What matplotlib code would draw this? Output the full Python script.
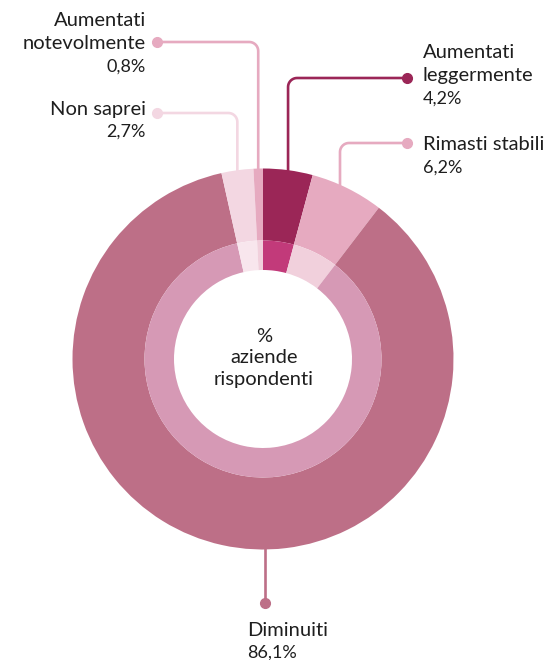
import numpy as np
import matplotlib.pyplot as plt

# dati (in senso orario partendo dalle ore 12)
labels = ['Aumentati\nleggermente', 'Rimasti stabili', 'Diminuiti', 'Non saprei', 'Aumentati\nnotevolmente']
values = [4.2, 6.2, 86.1, 2.7, 0.8]
value_labels = ['4,2%', '6,2%', '86,1%', '2,7%', '0,8%']

outer_colors = ['#9b2657', '#e6aac0', '#bd6f87', '#f3d7e2', '#e6aac0']
inner_colors = ['#c23a7a', '#f1d0dc', '#d699b5', '#f8e6ed', '#f1d0dc']

W, H = 558, 660
cx, cy = 263, H - 359
R_out, R_mid, R_in = 190.5, 118.5, 89

fig = plt.figure(figsize=(W / 100, H / 100), dpi=100)
ax = fig.add_axes([0, 0, 1, 1])

ax.pie(values, startangle=90, counterclock=False, radius=R_out, center=(cx, cy),
       colors=outer_colors, wedgeprops=dict(width=R_out - R_mid, linewidth=0))
ax.pie(values, startangle=90, counterclock=False, radius=R_mid, center=(cx, cy),
       colors=inner_colors, wedgeprops=dict(width=R_mid - R_in, linewidth=0))

ax.set_xlim(0, W)
ax.set_ylim(0, H)
ax.set_aspect('equal')
ax.axis('off')

plt.rcParams['font.family'] = ['Lato', 'DejaVu Sans']
txt = '#1e1e1e'
fs = 14.5
fs_val = 13

# angoli medi delle fette
cum = np.cumsum([0] + values)
mid = 90 - (cum[:-1] + np.array(values) / 2) * 3.6


def leader(x_ring, y_dot, x_dot, color, r=9):
    # segmento verticale dall'anello, angolo arrotondato, orizzontale fino al punto
    y_ring = cy + np.sqrt(R_out ** 2 - (x_ring - cx) ** 2)
    s = np.sign(x_dot - x_ring)
    t = np.linspace(0, np.pi / 2, 12)
    ax_x = x_ring + s * r - s * r * np.cos(t)
    ax_y = y_dot - r + r * np.sin(t)
    xs = np.concatenate([[x_ring], ax_x, [x_dot]])
    ys = np.concatenate([[y_ring - 2], ax_y, [y_dot]])
    ax.plot(xs, ys, color=color, lw=1.9, solid_capstyle='butt', zorder=0)
    ax.plot([x_dot], [y_dot], 'o', color=color, ms=7, zorder=1)


def label(x, baselines, label_text, value_text, ha):
    lines = label_text.split('\n')
    for ln, b in zip(lines, baselines):
        ax.text(x, H - b, ln, ha=ha, va='baseline', fontsize=fs, color=txt)
    ax.text(x, H - baselines[-1], value_text, ha=ha, va='baseline', fontsize=fs_val, color=txt)


ring_x = cx + R_out * np.cos(np.radians(mid))

# Aumentati leggermente
leader(ring_x[0], H - 78, 407, outer_colors[0])
label(423, [58, 81, 104], labels[0], value_labels[0], 'left')

# Rimasti stabili
leader(340, H - 143, 407, outer_colors[1])
label(423, [150, 173], labels[1], value_labels[1], 'left')

# Non saprei
leader(ring_x[3], H - 113, 157, outer_colors[3])
label(146, [115, 137], labels[3], value_labels[3], 'right')

# Aumentati notevolmente
leader(ring_x[4], H - 42, 157, outer_colors[4])
label(146, [26, 49, 72], labels[4], value_labels[4], 'right')

# Diminuiti
ax.plot([265, 265], [cy - R_out + 2, H - 603], color=outer_colors[2], lw=1.9, zorder=0)
ax.plot([265], [H - 603], 'o', color=outer_colors[2], ms=7, zorder=1)
label(247, [636, 658], labels[2], value_labels[2], 'left')

# testo centrale
for ln, b in zip(['%', 'aziende', 'rispondenti'], [342, 363, 385]):
    ax.text(cx + 1, H - b, ln, ha='center', va='baseline', fontsize=fs, color=txt)

fig.savefig('out.png', dpi=100)
